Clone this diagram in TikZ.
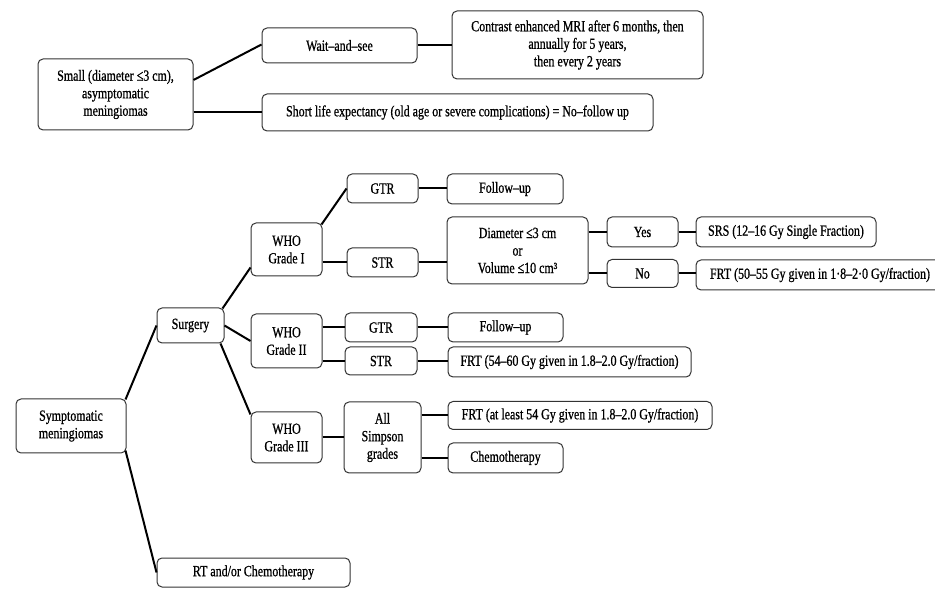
\documentclass[tikz,border=0pt]{standalone}
\usepackage{fontspec}
\setmainfont{Liberation Serif}[FakeStretch=0.77,FakeBold=0.8]
\begin{document}
\begin{tikzpicture}[x=1pt,y=-1pt,
  box/.style={draw=black!80, line width=1pt, rounded corners=5pt, inner sep=0pt, align=center,
    font=\fontsize{15.5}{17.5}\selectfont},
  conn/.style={line width=2pt, black}]
\useasboundingbox (0,0) rectangle (935,601);
\clip (0,0) rectangle (935,601);
\newcommand\bx[6]{\node[box, minimum width=#4pt, minimum height=#5pt] (#1) at (#2,#3) {#6};}
% top part
\bx{small}{115.5}{94.5}{155}{71}{Small (diameter ≤3 cm),\\asymptomatic\\meningiomas}
\bx{wait}{339.5}{45.5}{155}{35}{Wait–and–see}
\bx{mri}{577.5}{45}{251}{68}{Contrast enhanced MRI after 6 months, then\\annually for 5 years,\\then every 2 years}
\bx{short}{457.5}{112.5}{391}{37}{Short life expectancy (old age or severe complications) = No–follow up}
% bottom tree
\bx{symp}{71}{426}{110}{54}{Symptomatic\\meningiomas}
\bx{surg}{190.5}{325.5}{67}{35}{Surgery}
\bx{rt}{253.5}{572.5}{193}{29}{RT and/or Chemotherapy}
\bx{who1}{286.5}{249.5}{71}{53}{WHO\\Grade I}
\bx{who2}{286.5}{341}{71}{54}{WHO\\Grade II}
\bx{who3}{286.5}{437.5}{71}{51}{WHO\\Grade III}
\bx{gtr1}{382.5}{188.5}{71}{29}{GTR}
\bx{str1}{382.5}{262.5}{71}{29}{STR}
\bx{fu1}{505}{189}{116}{30}{Follow–up}
\bx{diam}{517.5}{250.5}{141}{67}{Diameter ≤3 cm\\or\\Volume ≤10 cm³}
\bx{yes}{642.5}{232}{71}{30}{Yes}
\bx{no}{642.5}{273.5}{71}{28}{No}
\bx{srs}{786}{232}{180}{30}{SRS (12–16 Gy Single Fraction)}
\bx{frt1}{820}{275}{248}{30}{FRT (50–55 Gy given in 1·8–2·0 Gy/fraction)}
\bx{gtr2}{381}{327.5}{72}{29}{GTR}
\bx{str2}{381}{361}{72}{28}{STR}
\bx{fu2}{505.5}{327.5}{115}{29}{Follow–up}
\bx{frt2}{569.5}{362}{243}{30}{FRT (54–60 Gy given in 1.8–2.0 Gy/fraction)}
\bx{all}{382.5}{437.5}{77}{71}{All\\Simpson\\grades}
\bx{frt3}{580}{415.5}{264}{28}{FRT (at least 54 Gy given in 1.8–2.0 Gy/fraction)}
\bx{chemo}{505.5}{458}{115}{30}{Chemotherapy}
% connectors
\draw[conn] ([yshift=14.5pt]small.east) -- ([yshift=1pt]wait.west);
\draw[conn] (small.east |- short.west) -- (short.west);
\draw[conn] (wait.east) -- (mri.west |- wait.east);
\draw[conn] ([shift={(-1pt,-1pt)}]symp.north east) -- (surg.west);
\draw[conn] ([shift={(-1pt,3pt)}]symp.south east) -- (rt.west);
\draw[conn] ([shift={(-2pt,-1pt)}]surg.north east) -- ([yshift=9pt]who1.south west);
\draw[conn] (surg.east) -- (who2.west);
\draw[conn] ([xshift=-4pt]surg.south east) -- ([yshift=-3pt]who3.north west);
\draw[conn] ([shift={(-1pt,-2pt)}]who1.north east) -- (gtr1.west);
\draw[conn] (who1.east |- str1.west) -- (str1.west);
\draw[conn] (gtr1.east) -- (fu1.west |- gtr1.east);
\draw[conn] (str1.east) -- (diam.west |- str1.east);
\draw[conn] (diam.east |- yes.west) -- (yes.west);
\draw[conn] (diam.east |- no.west) -- (no.west);
\draw[conn] (yes.east) -- (srs.west |- yes.east);
\draw[conn] (no.east) -- (frt1.west |- no.east);
\draw[conn] (who2.east |- gtr2.west) -- (gtr2.west);
\draw[conn] (who2.east |- str2.west) -- (str2.west);
\draw[conn] (gtr2.east) -- (fu2.west |- gtr2.east);
\draw[conn] (str2.east) -- (frt2.west |- str2.east);
\draw[conn] (who3.east) -- (all.west);
\draw[conn] (all.east |- frt3.west) -- (frt3.west);
\draw[conn] (all.east |- chemo.west) -- (chemo.west);
\end{tikzpicture}
\end{document}
